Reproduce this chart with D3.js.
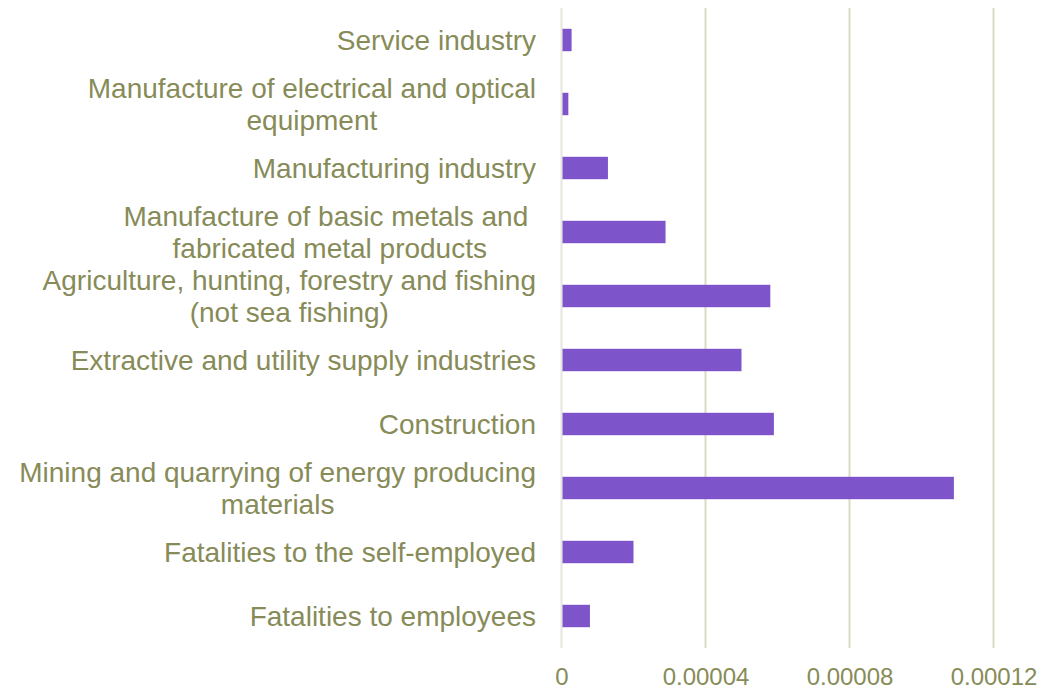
<!DOCTYPE html>
<html>
<head>
<meta charset="utf-8">
<script src="https://cdn.jsdelivr.net/npm/d3@7"></script>
<style>
  html, body { margin: 0; padding: 0; background: #ffffff; }
  svg { display: block; }
  text { font-family: "Liberation Sans", Arial, sans-serif; }
</style>
</head>
<body>
<svg id="chart" width="1061" height="689"></svg>
<script>
// Categories, top to bottom; each entry is the list of wrapped lines.
const categories = [
  ["Service industry"],
  ["Manufacture of electrical and optical", "equipment"],
  ["Manufacturing industry"],
  ["Manufacture of basic metals and ", "fabricated metal products"],
  ["Agriculture, hunting, forestry and fishing", "(not sea fishing)"],
  ["Extractive and utility supply industries"],
  ["Construction"],
  ["Mining and quarrying of energy producing", "materials"],
  ["Fatalities to the self-employed"],
  ["Fatalities to employees"]
];

// Fatality rate per category
const rates = [
  0.0000028, 0.0000019, 0.0000129, 0.0000289, 0.0000580,
  0.0000500, 0.0000590, 0.0001090, 0.0000200, 0.0000079
];

const tickValues = [0, 0.00004, 0.00008, 0.00012];
const tickLabels = ["0", "0.00004", "0.00008", "0.00012"];

const svg = d3.select("#chart");

const plot = { left: 561.5, right: 993.5, top: 8, bottom: 648 };
const textColor = "#878b58";
const barColor = "#7e54cb";
const gridColor = "#d9dcc2";

const x = d3.scaleLinear().domain([0, 0.00012]).range([plot.left, plot.right]);
const y = d3.scaleBand()
  .domain(d3.range(categories.length))
  .range([plot.top, plot.bottom])
  .paddingInner(0.65)
  .paddingOuter(0.325);

// Vertical gridlines
svg.append("g")
  .selectAll("line")
  .data(tickValues)
  .join("line")
  .attr("x1", d => x(d)).attr("x2", d => x(d))
  .attr("y1", plot.top).attr("y2", plot.bottom)
  .attr("stroke", (d, i) => i === 0 ? "#e6e7da" : gridColor)
  .attr("stroke-width", 2);

// Bars
svg.append("g")
  .selectAll("rect")
  .data(rates)
  .join("rect")
  .attr("x", x(0) + 1)
  .attr("y", (d, i) => y(i))
  .attr("width", d => x(d) - x(0) - 1)
  .attr("height", y.bandwidth())
  .attr("fill", barColor);

// X axis tick labels
const xAxis = d3.axisBottom(x)
  .tickValues(tickValues)
  .tickFormat((d, i) => tickLabels[i])
  .tickSize(0)
  .tickPadding(0);

const gx = svg.append("g")
  .attr("transform", `translate(0, ${plot.bottom})`)
  .call(xAxis);
gx.select(".domain").remove();
gx.selectAll("text")
  .attr("dy", null)
  .attr("y", 37)
  .attr("fill", textColor)
  .style("font-size", "24px")
  .style("font-family", '"Liberation Sans", Arial, sans-serif');

// Category labels: each wrapped block is right aligned, lines centred within it
const labelRight = 536;
const lineHeight = 32;
const fontSize = 28;

const labels = svg.append("g");
categories.forEach((lines, i) => {
  const cy = y(i) + y.bandwidth() / 2;
  const g = labels.append("g");
  const texts = lines.map((line, k) =>
    g.append("text")
      .style("white-space", "pre")
      .attr("xml:space", "preserve")
      .attr("fill", textColor)
      .style("font-size", fontSize + "px")
      .attr("text-anchor", "middle")
      .attr("dominant-baseline", "central")
      .attr("y", cy + (k - (lines.length - 1) / 2) * lineHeight)
      .text(line)
  );
  const blockW = d3.max(texts, t => t.node().getComputedTextLength());
  texts.forEach(t => t.attr("x", labelRight - blockW / 2));
});
</script>
</body>
</html>
